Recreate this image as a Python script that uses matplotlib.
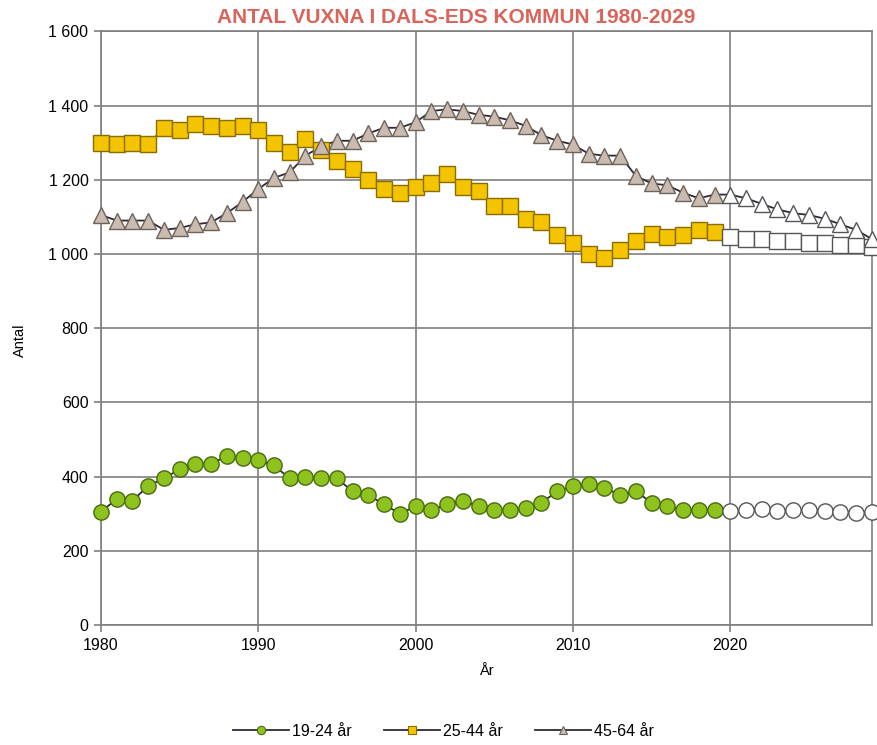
import matplotlib
matplotlib.use("Agg")
import matplotlib.pyplot as plt
from matplotlib.ticker import FuncFormatter, MultipleLocator
import numpy as np

years = list(range(1980, 2030))
# 19-24 år
g1924 = [305, 340, 335, 375, 395, 420, 435, 435, 455, 450,
         445, 430, 395, 400, 395, 395, 360, 350, 325, 300,
         320, 310, 325, 335, 320, 310, 310, 315, 330, 360,
         375, 380, 370, 350, 360, 330, 320, 310, 310, 310,
         308, 310, 312, 308, 310, 310, 308, 305, 303, 305]
# 25-44 år
g2544 = [1300, 1295, 1300, 1295, 1340, 1335, 1350, 1345, 1340, 1345,
         1335, 1300, 1275, 1310, 1280, 1250, 1230, 1200, 1175, 1165,
         1180, 1190, 1215, 1180, 1170, 1130, 1130, 1095, 1085, 1050,
         1030, 1000, 990, 1010, 1035, 1055, 1045, 1050, 1065, 1060,
         1045, 1040, 1040, 1035, 1035, 1030, 1030, 1025, 1025, 1020]
# 45-64 år
g4564 = [1105, 1090, 1090, 1090, 1065, 1070, 1080, 1085, 1110, 1140,
         1175, 1205, 1220, 1265, 1290, 1305, 1305, 1325, 1340, 1340,
         1355, 1385, 1390, 1385, 1375, 1370, 1360, 1345, 1320, 1305,
         1295, 1270, 1265, 1265, 1210, 1190, 1185, 1165, 1150, 1160,
         1160, 1150, 1135, 1120, 1110, 1105, 1095, 1080, 1065, 1040]
series_names = ["19-24 år", "25-44 år", "45-64 år"]
last_actual_year = 2019

plt.rcParams['font.family'] = ['Liberation Sans', 'DejaVu Sans']

fig = plt.figure(figsize=(8.78, 7.45), dpi=100)
ax = fig.add_axes([0.115, 0.161, 0.878, 0.797])

yrs = np.array(years)
act = yrs <= last_actual_year
proj = yrs > last_actual_year

styles = [
    dict(marker='o', mfc='#8dc21f', mec='#4a6b10', ms=11),
    dict(marker='s', mfc='#f5c400', mec='#8a6d00', ms=11),
    dict(marker='^', mfc='#c9bbb0', mec='#6e6259', ms=11),
]
handles = []
for data, st, name in zip([g1924, g2544, g4564], styles, series_names):
    d = np.array(data, dtype=float)
    ax.plot(yrs, d, color='#2b2b3a', lw=1.3, zorder=2, clip_on=False)
    ax.plot(yrs[act], d[act], ls='none', marker=st['marker'], ms=st['ms'],
            mfc=st['mfc'], mec=st['mec'], mew=1.0, zorder=3, clip_on=False)
    ax.plot(yrs[proj], d[proj], ls='none', marker=st['marker'], ms=st['ms'],
            mfc='white', mec='#555555', mew=1.0, zorder=3, clip_on=False)
    h, = ax.plot([], [], color='#2b2b3a', lw=1.3, marker=st['marker'], ms=6,
                 mfc=st['mfc'], mec=st['mec'], mew=0.8, label=name)
    handles.append(h)

ax.set_xlim(1980, 2029)
ax.set_ylim(0, 1600)
ax.xaxis.set_major_locator(MultipleLocator(10))
ax.yaxis.set_major_locator(MultipleLocator(200))
ax.yaxis.set_major_formatter(FuncFormatter(lambda v, p: f"{int(v):,}".replace(",", " ")))
ax.grid(True, color='#7f7f7f', lw=1.2)
ax.set_axisbelow(True)
for s in ax.spines.values():
    s.set_color('#7f7f7f')
    s.set_linewidth(1.2)
ax.tick_params(length=5, width=1.2, color='#7f7f7f', labelsize=11.5, pad=4)

fig.text(20 / 878, 1 - 340 / 745, "Antal", rotation=90, ha='center', va='center', fontsize=10.5)
ax.set_xlabel("År", fontsize=10.5, labelpad=8)
fig.text(0.52, 0.976, "ANTAL VUXNA I DALS-EDS KOMMUN 1980-2029", ha='center', va='center',
         fontsize=15, fontweight='bold', color='#d9645a', fontstretch='condensed')

fig.legend(handles=handles, loc='center', bbox_to_anchor=(0.505, 0.018), ncol=3,
           frameon=False, fontsize=11.5, handlelength=3.5, columnspacing=2.0, handletextpad=0.2)

fig.savefig("out.png", dpi=100)
